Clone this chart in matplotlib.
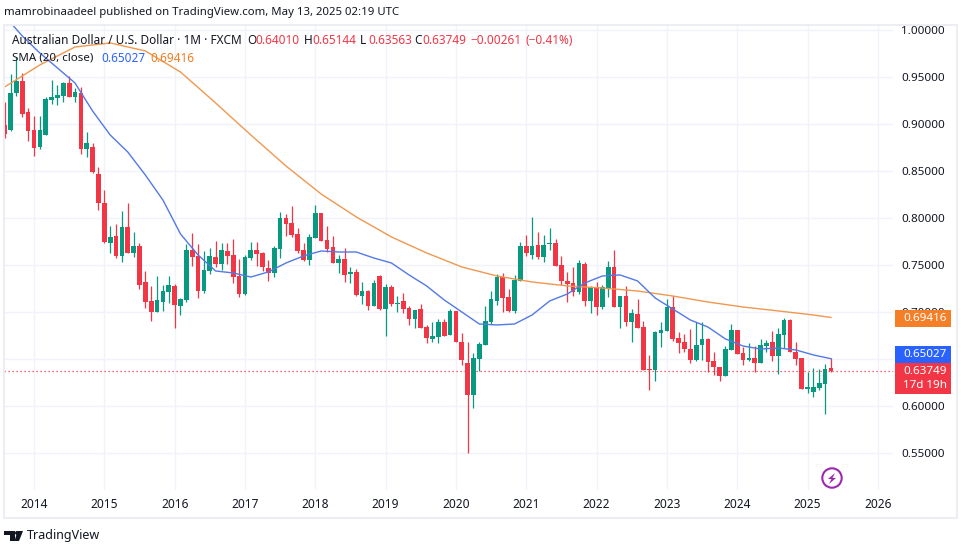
import matplotlib
matplotlib.use("Agg")
import matplotlib.pyplot as plt
from matplotlib.patches import Rectangle, Circle, Polygon
from matplotlib.transforms import IdentityTransform

# monthly AUD/USD candles, Aug 2013 to May 2025
opens = [.8989,.8936,.9330,.9457,.9128,.8936,.8755,.8883,.9255,.9277,.9298,.9436,.9287,.9330,.8734,.8755,.8468,.8160,
         .7734,.7809,.7596,.7904,.7628,.7702,.7319,.7117,.7000,.7106,.7213,.7277,.7064,.7128,.7660,.7596,.7223,.7436,
         .7585,.7511,.7649,.7606,.7383,.7191,.7574,.7660,.7628,.7468,.7415,.7670,.8000,.7947,.7830,.7660,.7553,.7787,
         .8053,.7766,.7691,.7521,.7564,.7404,.7426,.7170,.7223,.7064,.7383,.7032,.7266,.7085,.7117,.7043,.6926,.7032,
         .6840,.6713,.6734,.6894,.6755,.7011,.6681,.6457,.6117,.6500,.6649,.6894,.7117,.7372,.7160,.7011,.7330,.7702,
         .7606,.7713,.7585,.7723,.7734,.7500,.7330,.7309,.7213,.7511,.7117,.7266,.7053,.7255,.7479,.7053,.7170,.6894,
         .6979,.6840,.6394,.6383,.6777,.6798,.7053,.6723,.6681,.6606,.6489,.6649,.6713,.6479,.6415,.6319,.6596,.6809,
         .6564,.6489,.6511,.6457,.6638,.6681,.6532,.6755,.6915,.6574,.6511,.6181,.6149,.6191,.6234,.64010]
highs = [.9234,.9532,.9713,.9543,.9170,.9085,.9085,.9287,.9468,.9415,.9447,.9511,.9383,.9394,.8915,.8798,.8543,.8298,
         .7915,.7936,.8074,.8160,.7851,.7734,.7436,.7277,.7383,.7287,.7383,.7298,.7149,.7723,.7840,.7723,.7649,.7681,
         .7755,.7734,.7734,.7777,.7564,.7606,.7745,.7745,.7638,.7553,.7702,.8064,.8043,.8128,.7894,.7734,.7830,.8138,
         .8053,.7915,.7809,.7606,.7681,.7479,.7457,.7319,.7234,.7340,.7394,.7298,.7287,.7170,.7202,.7064,.7021,.7085,
         .6862,.6894,.6926,.6926,.7032,.7011,.6777,.6681,.6564,.6681,.7064,.7223,.7404,.7415,.7245,.7394,.7745,.7819,
         .8011,.7851,.7819,.7894,.7777,.7596,.7426,.7479,.7553,.7532,.7277,.7319,.7287,.7543,.7660,.7170,.7277,.7032,
         .7138,.6904,.6543,.6798,.6894,.7138,.7170,.6787,.6766,.6819,.6894,.6894,.6723,.6574,.6415,.6638,.6872,.6809,
         .6628,.6670,.6638,.6713,.6702,.6798,.6830,.6936,.6926,.6681,.6511,.6362,.6404,.6394,.6447,.65144]
lows = [.8851,.8926,.9298,.9074,.8819,.8660,.8734,.8883,.9213,.9202,.9234,.9287,.9234,.8681,.8649,.8479,.8085,.7734,
        .7628,.7574,.7532,.7628,.7585,.7245,.7043,.6904,.7000,.7011,.7096,.6830,.6968,.7106,.7489,.7149,.7202,.7404,
        .7479,.7447,.7511,.7309,.7160,.7181,.7553,.7489,.7436,.7330,.7372,.7574,.7809,.7798,.7628,.7543,.7500,.7787,
        .7755,.7638,.7521,.7415,.7319,.7309,.7170,.7085,.7021,.7064,.7021,.6745,.7064,.7000,.6989,.6862,.6830,.6830,
        .6670,.6681,.6670,.6745,.6755,.6681,.6436,.5500,.5979,.6372,.6649,.6872,.7074,.7000,.7000,.6989,.7330,.7596,
        .7564,.7564,.7532,.7660,.7489,.7287,.7106,.7170,.7191,.7064,.6989,.6968,.7032,.7160,.7053,.6830,.6851,.6681,
        .6830,.6383,.6170,.6266,.6628,.6798,.6692,.6564,.6574,.6457,.6479,.6489,.6362,.6330,.6266,.6319,.6596,.6553,
        .6436,.6479,.6362,.6457,.6574,.6479,.6340,.6617,.6574,.6436,.6181,.6138,.6096,.6170,.5915,.63563]
closes = [.8894,.9330,.9457,.9106,.8926,.8745,.8936,.9266,.9287,.9309,.9436,.9287,.9340,.8734,.8798,.8489,.8160,.7745,
          .7798,.7596,.7904,.7628,.7702,.7287,.7106,.7000,.7128,.7223,.7287,.7074,.7138,.7660,.7585,.7223,.7447,.7596,
          .7511,.7660,.7596,.7372,.7191,.7585,.7660,.7617,.7479,.7415,.7681,.8000,.7936,.7819,.7649,.7553,.7798,.8053,
          .7755,.7670,.7521,.7564,.7394,.7426,.7181,.7223,.7064,.7309,.7032,.7266,.7085,.7096,.7032,.6926,.7021,.6830,
          .6723,.6745,.6894,.6745,.7011,.6681,.6489,.6117,.6511,.6660,.6904,.7138,.7372,.7149,.7011,.7340,.7702,.7628,
          .7702,.7585,.7713,.7734,.7489,.7330,.7298,.7213,.7521,.7117,.7266,.7053,.7266,.7479,.7053,.7170,.6894,.6989,
          .6830,.6383,.6383,.6787,.6809,.7053,.6713,.6670,.6606,.6489,.6649,.6713,.6468,.6415,.6319,.6606,.6809,.6553,
          .6489,.6511,.6457,.6649,.6670,.6532,.6766,.6915,.6574,.6500,.6181,.6202,.6202,.6245,.6394,.63749]

# the two moving averages, read every few months
sma_fast_idx = list(range(0, 142, 3))
sma_fast = [1.0149,.9936,.9755,.9596,.9436,.9138,.8883,.8702,.8457,.8191,.7830,.7606,.7436,.7415,.7372,.7426,
            .7521,.7596,.7649,.7638,.7638,.7574,.7521,.7394,.7277,.7128,.7000,.6872,.6862,.6872,.6968,.7117,
            .7191,.7309,.7383,.7394,.7330,.7149,.7032,.6915,.6840,.6713,.6638,.6606,.6617,.6596,.6543,.65027]
sma_slow_idx = list(range(0, 139, 6)) + [141]
sma_slow = [.9394,.9628,.9819,.9862,.9777,.9553,.9223,.8883,.8553,.8255,.8011,.7798,.7628,.7479,.7383,.7319,
            .7277,.7255,.7223,.7170,.7106,.7053,.7011,.6968,.69416]

years = list(range(2014, 2027))
year_idx = [5 + 12*n for n in range(len(years))]
price_ticks = [1.0, .95, .9, .85, .8, .75, .7, .65, .6, .55]
# 0.65000 sits fully behind the blue tag in the reference
price_labels = ["1.00000", "0.95000", "0.90000", "0.85000", "0.80000", "0.75000", "0.70000", "", "0.60000", "0.55000"]

GREEN = "#089981"
RED = "#f23645"
BLUE = "#5279e6"
ORANGE = "#f0984f"
GRID = "#f0f3fa"
DARK = "#131722"
FONT = "Noto Sans"
W, H = 961, 550

plt.rcParams["font.family"] = FONT
fig = plt.figure(figsize=(W/100, H/100), dpi=100, facecolor="white")

# plot area in pixels: x 4..893, y 25..490
ax = fig.add_axes([4/W, 1-490/H, 889/W, 465/H])
ax.set_xlim(-0.12, 151.59)
ax.set_ylim(0.5106, 1.0053)
for s in ax.spines.values():
  s.set_visible(False)
ax.set_axisbelow(True)
ax.grid(True, color=GRID, lw=1)
ax.set_xticks(year_idx)
ax.set_xticklabels([str(y) for y in years], fontsize=8.6, color=DARK, fontweight="medium")
ax.set_yticks(price_ticks)
ax.set_yticklabels(price_labels, fontsize=8.4, color=DARK)
ax.yaxis.tick_right()
ax.tick_params(axis="both", length=0)
ax.tick_params(axis="x", pad=6)
ax.tick_params(axis="y", pad=6)

for i in range(len(closes)):
  color = GREEN if closes[i] >= opens[i] else RED
  ax.vlines(i, lows[i], highs[i], color=color, lw=0.9, zorder=3)
  bottom = min(opens[i], closes[i])
  height = max(abs(closes[i]-opens[i]), 0.0012)
  ax.add_patch(Rectangle((i-0.4, bottom), 0.8, height, facecolor=color, edgecolor="none", zorder=4))

ax.plot(sma_slow_idx, sma_slow, color=ORANGE, lw=1.0, zorder=5)
ax.plot(sma_fast_idx, sma_fast, color=BLUE, lw=1.0, zorder=5)
ax.axhline(closes[-1], color=RED, lw=0.9, ls=(0, (1, 2.2)), zorder=2)


def ptext(x, y, s, **kw):
  # text placed by pixel position from the top left corner
  kw.setdefault("fontsize", 8.6)
  kw.setdefault("color", DARK)
  kw.setdefault("va", "center")
  fig.text(x/W, 1-y/H, s, zorder=10, **kw)


def pbox(x0, y0, x1, y1, color):
  fig.add_artist(Rectangle((x0, H-y1), x1-x0, y1-y0, facecolor=color, edgecolor="none",
                           transform=IdentityTransform(), zorder=8))


# frame round the chart
fig.add_artist(Rectangle((3.5, H-518), 953, 493, facecolor="none", edgecolor="#eceef2", lw=1.5,
                         transform=IdentityTransform(), zorder=1))

# header and legend
ptext(4, 13, "mamrobinaadeel published on TradingView.com, May 13, 2025 02:19 UTC", fontsize=8.2)
ptext(12, 41, "Australian Dollar / U.S. Dollar · 1M · FXCM", fontsize=8.5)
for x, lab, val in [(247, "O", "0.64010"), (304, "H", "0.65144"), (360, "L", "0.63563"), (414, "C", "0.63749")]:
  ptext(x, 41, lab, fontsize=8.5)
  ptext(x+8, 41, val, color=RED, fontsize=8.5)
ptext(470, 41, "−0.00261", color=RED, fontsize=8.5)
ptext(525, 41, "(−0.41%)", color=RED, fontsize=8.5)
ptext(12, 58, "SMA (20, close)", fontsize=8.3)
ptext(101, 58, "0.65027", color="#2962ff", fontsize=8.5)
ptext(150, 58, "0.69416", color="#f57c1f", fontsize=8.5)

# price tags
pbox(895, 310, 951, 327, "#f57f27")
ptext(903, 318.5, "0.69416", color="white", fontsize=8.4, fontweight="medium")
pbox(895, 346, 951, 363, "#2962ff")
ptext(903, 354.5, "0.65027", color="white", fontsize=8.4, fontweight="medium")
pbox(895, 363, 951, 394, RED)
ptext(903, 371, "0.63749", color="white", fontsize=8.4, fontweight="medium")
ptext(903, 385, "17d 19h", color="white", fontsize=8.4)

# lightning badge
fig.add_artist(Circle((832, H-478), 9.7, facecolor="white", edgecolor="#9c27b0", lw=1.5,
                      transform=IdentityTransform(), zorder=8))
bolt = [(835, 473), (828, 479), (831.5, 479), (829, 484), (836, 478), (832.5, 478)]
fig.add_artist(Polygon([(x, H-y) for x, y in bolt], facecolor="#9c27b0", edgecolor="none",
                       transform=IdentityTransform(), zorder=9))

# TradingView logo and name
logo1 = [(4, 531), (15, 531), (15, 541), (10, 541), (10, 535), (4, 535)]
logo2 = [(17.5, 531), (23, 531), (19, 541), (14.5, 541)]
for shape in (logo1, logo2):
  fig.add_artist(Polygon([(x, H-y) for x, y in shape], facecolor=DARK, edgecolor="none",
                         transform=IdentityTransform(), zorder=9))
fig.add_artist(Circle((17, H-533), 2, facecolor=DARK, edgecolor="none", transform=IdentityTransform(), zorder=9))
ptext(27, 536, "TradingView", fontsize=9.0)

fig.savefig("out.png", dpi=100, facecolor="white")
